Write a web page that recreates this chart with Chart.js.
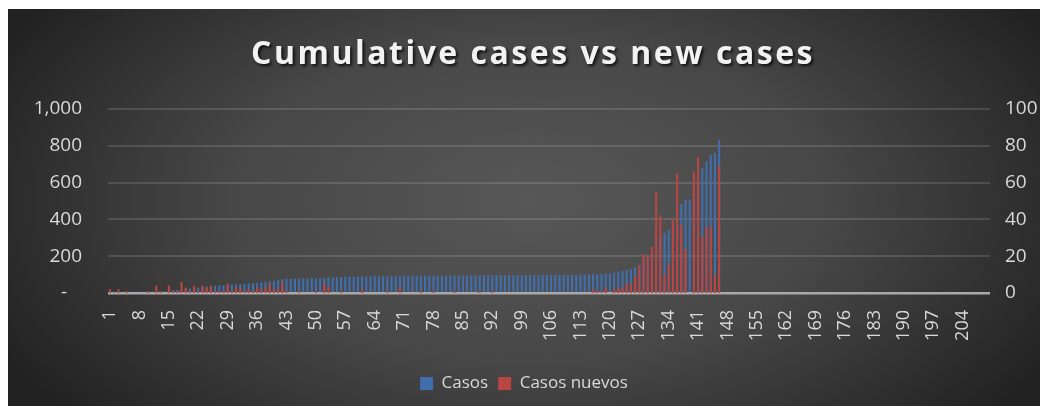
<!DOCTYPE html>
<html>
<head>
<meta charset="utf-8">
<script src="https://cdn.jsdelivr.net/npm/chart.js@4/dist/chart.umd.min.js"></script>
<style>
  html, body { margin: 0; padding: 0; background: #fff; }
</style>
</head>
<body>
<canvas id="chart" width="1048" height="411"></canvas>
<script>
// categories: day number 1..210
const dias = Array.from({ length: 210 }, (_, i) => String(i + 1));

// cumulative cases (left axis)
const casos = [
  2, 2, 4, 4, 5, 5, 5, 5, 5, 6,
  6, 10, 11, 11, 15, 16, 17, 20, 22, 24,
  27, 29, 32, 34, 37, 39, 41, 42, 44, 45,
  47, 48, 50, 51, 53, 55, 58, 62, 64, 66,
  70, 74, 77, 78, 78, 79, 79, 79, 80, 80,
  80, 82, 84, 85, 86, 87, 88, 88, 88, 89,
  90, 90, 90, 91, 91, 91, 91, 91, 91, 93,
  93, 93, 93, 93, 94, 94, 94, 94, 94, 94,
  95, 95, 95, 96, 96, 96, 96, 96, 96, 97,
  97, 97, 97, 97, 97, 97, 97, 97, 97, 98,
  98, 98, 98, 98, 98, 98, 98, 98, 98, 99,
  99, 99, 100, 100, 100,
  102, 102, 103, 105, 107, 111, 116, 120, 125, 129, 138,
  153, 174, 194, 219, 274, 316, 326, 342, 382, 447,
  484, 508, 508, 574, 648, 679, 715, 751, 761, 830
];

// new cases (right axis)
const casosNuevos = [
  2, 0, 2, 0, 1, 0, 0, 0, 0, 1,
  0, 4, 1, 0, 4, 1, 1, 6, 3, 1,
  4, 1, 4, 3, 4, 1, 1, 1, 5, 1,
  3, 3, 1, 2, 1, 3, 2, 3, 5, 2,
  2, 6, 1, 0, 0, 1, 0, 0, 0, 1,
  0, 5, 3, 0, 0, 1, 0, 0, 0, 0,
  2, 0, 0, 0, 0, 0, 1, 0, 0, 3,
  0, 0, 0, 0, 1, 0, 0, 1, 0, 0,
  0, 0, 1, 0, 0, 0, 0, 0, 1, 0,
  0, 1, 0, 0, 0, 0, 0, 0, 0, 0,
  0, 0, 0, 0, 0, 0, 0, 0, 0, 0,
  0, 0, 0, 0, 0,
  2, 1, 1, 3, 0, 2, 3, 3, 5, 5, 9,
  15, 21, 20, 25, 55, 42, 10, 16, 40, 65,
  37, 24, 0, 66, 74, 31, 36, 36, 10, 69
];

const leftTicks = [0, 200, 400, 600, 800, 1000];
const rightTicks = [0, 20, 40, 60, 80, 100];
const titulo = 'Cumulative cases vs new cases';

const FONT = '"Open Sans", "DejaVu Sans", sans-serif';

// fondo degradado oscuro + titulo
const fondo = {
  id: 'fondo',
  beforeDraw(chart) {
    const c = chart.ctx;
    c.save();
    c.fillStyle = '#ffffff';
    c.fillRect(0, 0, chart.width, chart.height);
    c.beginPath();
    c.rect(8, 9, 1032, 397);
    c.clip();
    c.translate(530, 200);
    c.scale(1, 0.55);
    const g = c.createRadialGradient(0, 0, 0, 0, 0, 600);
    g.addColorStop(0, '#575757');
    g.addColorStop(0.5, '#474747');
    g.addColorStop(1, '#222222');
    c.fillStyle = g;
    c.fillRect(-600, -800, 1200, 1600);
    c.restore();

    c.save();
    c.font = 'bold 32px ' + FONT;
    c.letterSpacing = '2.5px';
    c.textAlign = 'center';
    c.textBaseline = 'alphabetic';
    c.shadowColor = 'rgba(0,0,0,0.75)';
    c.shadowOffsetX = 2;
    c.shadowOffsetY = 2;
    c.shadowBlur = 3;
    c.fillStyle = '#f2f2f2';
    c.fillText(titulo, 533, 64);
    c.restore();
  }
};

new Chart(document.getElementById('chart'), {
  type: 'bar',
  data: {
    labels: dias,
    datasets: [
      {
        label: 'Casos',
        data: casos,
        yAxisID: 'y',
        backgroundColor: '#416fae',
        borderWidth: 0,
        grouped: false,
        order: 1,
        barPercentage: 0.5,
        categoryPercentage: 1
      },
      {
        label: 'Casos nuevos',
        data: casosNuevos,
        yAxisID: 'y1',
        backgroundColor: '#b94643',
        borderWidth: 0,
        grouped: false,
        order: 0,
        barPercentage: 0.5,
        categoryPercentage: 1
      }
    ]
  },
  options: {
    responsive: false,
    animation: false,
    devicePixelRatio: 1,
    layout: { padding: { top: 109, bottom: 9, left: 0, right: 0 } },
    plugins: {
      title: { display: false },
      tooltip: { enabled: false },
      legend: {
        position: 'bottom',
        labels: {
          color: '#d9d9d9',
          font: { family: FONT, size: 17 },
          boxWidth: 13,
          boxHeight: 13,
          padding: 10,
          sort: (a, b) => a.datasetIndex - b.datasetIndex
        }
      }
    },
    scales: {
      x: {
        grid: { display: false },
        border: { display: false },
        ticks: {
          color: '#d9d9d9',
          font: { family: FONT, size: 18 },
          autoSkip: false,
          minRotation: 90,
          maxRotation: 90,
          padding: 9,
          callback: function (v, i) { return i % 7 === 0 ? this.getLabelForValue(v) : null; }
        },
        afterFit: s => { s.height = 72; }
      },
      y: {
        position: 'left',
        min: 0,
        max: 1000,
        afterBuildTicks: s => { s.ticks = leftTicks.map(v => ({ value: v })); },
        grid: {
          drawTicks: false,
          color: c => c.tick.value === 0 ? '#a9a9a9' : 'rgba(255,255,255,0.13)',
          lineWidth: c => c.tick.value === 0 ? 2.5 : 2
        },
        border: { display: false },
        ticks: {
          color: '#d9d9d9',
          font: { family: FONT, size: 19 },
          padding: 26,
          callback: v => v === 0 ? '-   ' : v.toLocaleString('en-US')
        },
        afterFit: s => { s.width = 108; }
      },
      y1: {
        position: 'right',
        min: 0,
        max: 100,
        afterBuildTicks: s => { s.ticks = rightTicks.map(v => ({ value: v })); },
        grid: { display: false, drawTicks: false },
        border: { display: false },
        ticks: {
          color: '#d9d9d9',
          font: { family: FONT, size: 19 },
          padding: 15
        },
        afterFit: s => { s.width = 58; }
      }
    }
  },
  plugins: [fondo]
});
</script>
</body>
</html>
